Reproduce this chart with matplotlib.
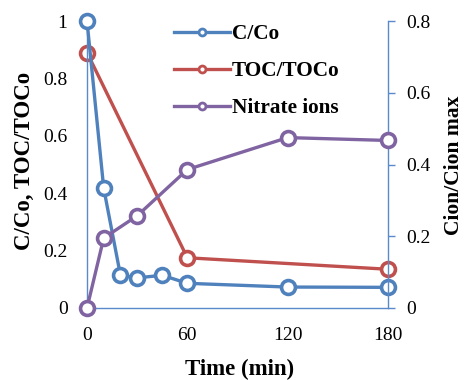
import matplotlib
matplotlib.use("Agg")
import matplotlib.pyplot as plt
from matplotlib.lines import Line2D

# data
t_c = [0, 10, 20, 30, 45, 60, 120, 180]
c_co = [1.0, 0.417, 0.114, 0.105, 0.114, 0.086, 0.073, 0.072]

t_toc = [0, 60, 180]
toc = [0.89, 0.175, 0.135]

t_no3 = [0, 10, 30, 60, 120, 180]
nitrate = [0.0, 0.195, 0.257, 0.386, 0.475, 0.467]

left_ticks = [0, 0.2, 0.4, 0.6, 0.8, 1]
left_labels = ["0", "0.2", "0.4", "0.6", "0.8", "1"]
right_ticks = [0, 0.2, 0.4, 0.6, 0.8]
right_labels = ["0", "0.2", "0.4", "0.6", "0.8"]
x_ticks = [0, 60, 120, 180]

blue = "#4F81BD"
red = "#C0504D"
purple = "#8064A2"
spine_col = "#5B8ACB"

plt.rcParams["font.family"] = ["Liberation Serif", "DejaVu Serif"]

fig = plt.figure(figsize=(4.65, 3.8), dpi=100)
ax = fig.add_axes([87 / 465, 1 - 308 / 380, 301 / 465, 287 / 380])
ax2 = ax.twinx()

mk = dict(marker="o", markersize=10, markerfacecolor="white",
          markeredgewidth=2.6, linewidth=2.4, clip_on=False)
ax.plot(t_c, c_co, color=blue, zorder=3, **mk)
ax.plot(t_toc, toc, color=red, zorder=2, **mk)
ax2.plot(t_no3, nitrate, color=purple, zorder=3, **mk)

ax.set_xlim(0, 180)
ax.set_ylim(0, 1)
ax2.set_ylim(0, 0.8)

ax.set_xticks(x_ticks)
ax.set_xticklabels([str(v) for v in x_ticks])
ax.set_yticks(left_ticks)
ax.set_yticklabels(left_labels)
ax2.set_yticks(right_ticks)
ax2.set_yticklabels(right_labels)

for a in (ax, ax2):
    a.spines["top"].set_visible(False)
    for s in ("left", "right", "bottom"):
        a.spines[s].set_color(spine_col)
        a.spines[s].set_linewidth(1.0)
ax.spines["right"].set_visible(False)
ax2.spines["left"].set_visible(False)
ax2.spines["bottom"].set_visible(False)

ax.tick_params(axis="y", length=0, pad=14, labelsize=14)
ax.tick_params(axis="x", length=0, pad=14, labelsize=14)
ax2.tick_params(axis="y", length=5, width=1.0, color=spine_col, pad=8, labelsize=14)

# axis titles placed in figure pixels
lab = dict(fontweight="bold", ha="center", va="center")
fig.text(240 / 465, 1 - 369 / 380, "Time (min)", fontsize=16.5, **lab)
fig.text(24 / 465, 1 - 161 / 380, "C/Co, TOC/TOCo", rotation=90, fontsize=16.5, **lab)
fig.text(454 / 465, 1 - 165 / 380, "Cion/Cion max", rotation=90, fontsize=15.5, **lab)

handles = [
    Line2D([], [], color=blue, marker="o", markersize=5, markerfacecolor="white",
           markeredgewidth=2, linewidth=2.4, label="C/Co"),
    Line2D([], [], color=red, marker="o", markersize=5, markerfacecolor="white",
           markeredgewidth=2, linewidth=2.4, label="TOC/TOCo"),
    Line2D([], [], color=purple, marker="o", markersize=5, markerfacecolor="white",
           markeredgewidth=2, linewidth=2.4, label="Nitrate ions"),
]
leg = ax2.legend(handles=handles, loc="upper left", bbox_to_anchor=(0.227, 1.056),
                 frameon=False, handlelength=2.6, handletextpad=0.1,
                 labelspacing=0.8, prop={"weight": "bold", "size": 15.3})

fig.savefig("out.png", dpi=100)
